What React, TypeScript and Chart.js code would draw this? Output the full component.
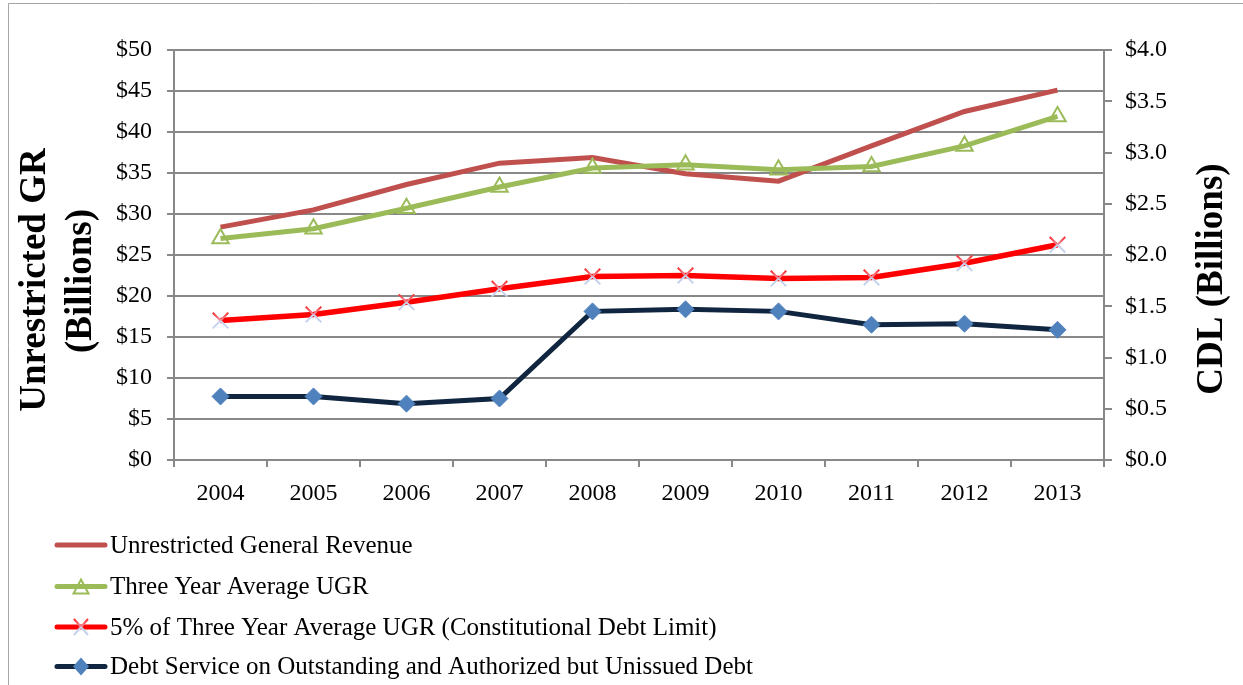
import React, { useEffect, useRef } from "react";
import { Chart, registerables } from "chart.js";

Chart.register(...registerables);

const years = ["2004", "2005", "2006", "2007", "2008", "2009", "2010", "2011", "2012", "2013"];
const ugr = [28.4, 30.5, 33.6, 36.2, 36.9, 34.9, 34.0, 38.3, 42.5, 45.1];
const avg3 = [27.0, 28.2, 30.7, 33.3, 35.6, 36.0, 35.4, 35.8, 38.3, 41.9];
const cdl = [1.36, 1.42, 1.54, 1.67, 1.79, 1.8, 1.77, 1.78, 1.92, 2.1];
const debt = [0.62, 0.62, 0.55, 0.6, 1.45, 1.47, 1.45, 1.32, 1.33, 1.27];

const seriesNames = [
  "Unrestricted General Revenue",
  "Three Year Average UGR",
  "5% of Three Year Average UGR (Constitutional Debt Limit)",
  "Debt Service on Outstanding and Authorized but Unissued Debt",
];
const leftTitle = ["Unrestricted GR", "(Billions)"];
const rightTitle = "CDL (Billions)";

const FONT = "'Liberation Serif', 'Times New Roman', serif";
const GRID = "#888888";
const C_UGR = "#C0504D";
const C_AVG = "#9BBB59";
const C_CDL = "#FF0000";
const C_DEBT = "#10253F";
const C_DIAM = "#4F81BD";
const C_XLIGHT = "#C6D3EC";

function xGradient(ctx: CanvasRenderingContext2D, y: number, r: number) {
  const g = ctx.createLinearGradient(0, y - r, 0, y + r);
  g.addColorStop(0, "#FF2A2A");
  g.addColorStop(0.45, "#EC8A98");
  g.addColorStop(0.55, C_XLIGHT);
  g.addColorStop(1, C_XLIGHT);
  return g;
}

const decorPlugin = {
  id: "decor",
  afterDraw(chart: any) {
    const ctx: CanvasRenderingContext2D = chart.ctx;
    ctx.save();
    // outer frame
    ctx.strokeStyle = "#a6a6a6";
    ctx.lineWidth = 1;
    ctx.beginPath();
    ctx.moveTo(8.5, 685);
    ctx.lineTo(8.5, 3.5);
    ctx.lineTo(1243, 3.5);
    ctx.stroke();

    // axis titles
    ctx.fillStyle = "#000";
    ctx.font = `bold 37px ${FONT}`;
    ctx.textAlign = "center";
    ctx.textBaseline = "middle";
    const drawRot = (t: string, x: number, y: number) => {
      ctx.save();
      ctx.translate(x, y);
      ctx.rotate(-Math.PI / 2);
      ctx.fillText(t, 0, 0);
      ctx.restore();
    };
    drawRot(leftTitle[0], 35, 280);
    drawRot(leftTitle[1], 81, 281);
    drawRot(rightTitle, 1212, 279);

    // legend
    const rows = [545, 586.5, 627, 666.5];
    const colors = [C_UGR, C_AVG, C_CDL, C_DEBT];
    ctx.font = `25px ${FONT}`;
    ctx.textAlign = "left";
    for (let i = 0; i < 4; i++) {
      const y = rows[i];
      ctx.strokeStyle = colors[i];
      ctx.lineWidth = 5;
      ctx.lineCap = "round";
      ctx.beginPath();
      ctx.moveTo(57, y);
      ctx.lineTo(105, y);
      ctx.stroke();
      ctx.lineCap = "butt";
      const cx = 81;
      if (i === 1) {
        ctx.strokeStyle = C_AVG;
        ctx.lineWidth = 2;
        ctx.beginPath();
        ctx.moveTo(cx, y - 7);
        ctx.lineTo(cx + 7.5, y + 7);
        ctx.lineTo(cx - 7.5, y + 7);
        ctx.closePath();
        ctx.stroke();
      } else if (i === 2) {
        ctx.strokeStyle = xGradient(ctx, y, 8);
        ctx.lineWidth = 2;
        ctx.beginPath();
        ctx.moveTo(cx - 7, y - 8);
        ctx.lineTo(cx + 7, y + 8);
        ctx.moveTo(cx + 7, y - 8);
        ctx.lineTo(cx - 7, y + 8);
        ctx.stroke();
      } else if (i === 3) {
        ctx.fillStyle = C_DIAM;
        ctx.beginPath();
        ctx.moveTo(cx, y - 9);
        ctx.lineTo(cx + 8, y);
        ctx.lineTo(cx, y + 9);
        ctx.lineTo(cx - 8, y);
        ctx.closePath();
        ctx.fill();
      }
      ctx.fillStyle = "#000";
      ctx.fillText(seriesNames[i], 110, y + 1);
    }
    ctx.restore();
  },
};

export default function App() {
  const ref = useRef<HTMLCanvasElement>(null);
  useEffect(() => {
    if (!ref.current) return;
    const chart = new Chart(ref.current, {
      type: "line",
      data: {
        labels: years,
        datasets: [
          {
            label: seriesNames[0],
            data: ugr,
            yAxisID: "y",
            borderColor: C_UGR,
            borderWidth: 5,
            pointRadius: 0,
            order: 3,
          },
          {
            label: seriesNames[1],
            data: avg3,
            yAxisID: "y",
            borderColor: C_AVG,
            borderWidth: 5,
            pointStyle: "triangle",
            pointRadius: 9.5,
            pointBorderWidth: 2,
            pointBorderColor: C_AVG,
            pointBackgroundColor: "rgba(0,0,0,0)",
            order: 2,
          },
          {
            label: seriesNames[2],
            data: cdl,
            yAxisID: "y1",
            borderColor: C_CDL,
            borderWidth: 5.5,
            pointStyle: "crossRot",
            pointRadius: 11,
            pointBorderWidth: 2,
            pointBorderColor: (c: any) => {
              const s = c.chart && c.chart.scales && c.chart.scales.y1;
              if (!s || !c.parsed || !Number.isFinite(c.parsed.y)) return C_XLIGHT;
              const py = s.getPixelForValue(c.parsed.y);
              if (!Number.isFinite(py)) return C_XLIGHT;
              return xGradient(c.chart.ctx, py, 8);
            },
            order: 1,
          },
          {
            label: seriesNames[3],
            data: debt,
            yAxisID: "y1",
            borderColor: C_DEBT,
            borderWidth: 5,
            pointStyle: "rectRot",
            pointRadius: 8.5,
            pointBorderWidth: 1,
            pointBorderColor: C_DIAM,
            pointBackgroundColor: C_DIAM,
            order: 0,
          },
        ],
      },
      options: {
        animation: false,
        responsive: false,
        maintainAspectRatio: false,
        layout: { padding: { top: 50, left: 0, right: 0, bottom: 0 } },
        plugins: { legend: { display: false }, tooltip: { enabled: false } },
        scales: {
          x: {
            type: "category",
            offset: true,
            grid: { drawOnChartArea: false, offset: true, tickLength: 7, color: GRID, lineWidth: 2 },
            border: { color: GRID, width: 2 },
            ticks: { font: { family: FONT, size: 24 }, color: "#000", padding: 12, maxRotation: 0 },
            afterFit: (s: any) => {
              s.height = 225;
            },
          },
          y: {
            position: "left",
            min: 0,
            max: 50,
            grid: { color: GRID, lineWidth: 2, tickLength: 7 },
            border: { color: GRID, width: 2 },
            ticks: {
              stepSize: 5,
              font: { family: FONT, size: 24 },
              color: "#000",
              padding: 15,
              callback: (v: any) => "$" + v,
            },
            afterFit: (s: any) => {
              s.width = 174;
            },
          },
          y1: {
            position: "right",
            min: 0,
            max: 4,
            grid: { drawOnChartArea: false, color: GRID, lineWidth: 2, tickLength: 8 },
            border: { color: GRID, width: 2 },
            ticks: {
              stepSize: 0.5,
              font: { family: FONT, size: 24 },
              color: "#000",
              padding: 13,
              callback: (v: any) => "$" + Number(v).toFixed(1),
            },
            afterFit: (s: any) => {
              s.width = 139;
            },
          },
        },
      },
      plugins: [decorPlugin],
    });
    return () => chart.destroy();
  }, []);
  return (
    <div style={{ position: "fixed", left: 0, top: 0, width: 1243, height: 685, background: "#fff" }}>
      <canvas ref={ref} width={1243} height={685} style={{ display: "block" }} />
    </div>
  );
}
